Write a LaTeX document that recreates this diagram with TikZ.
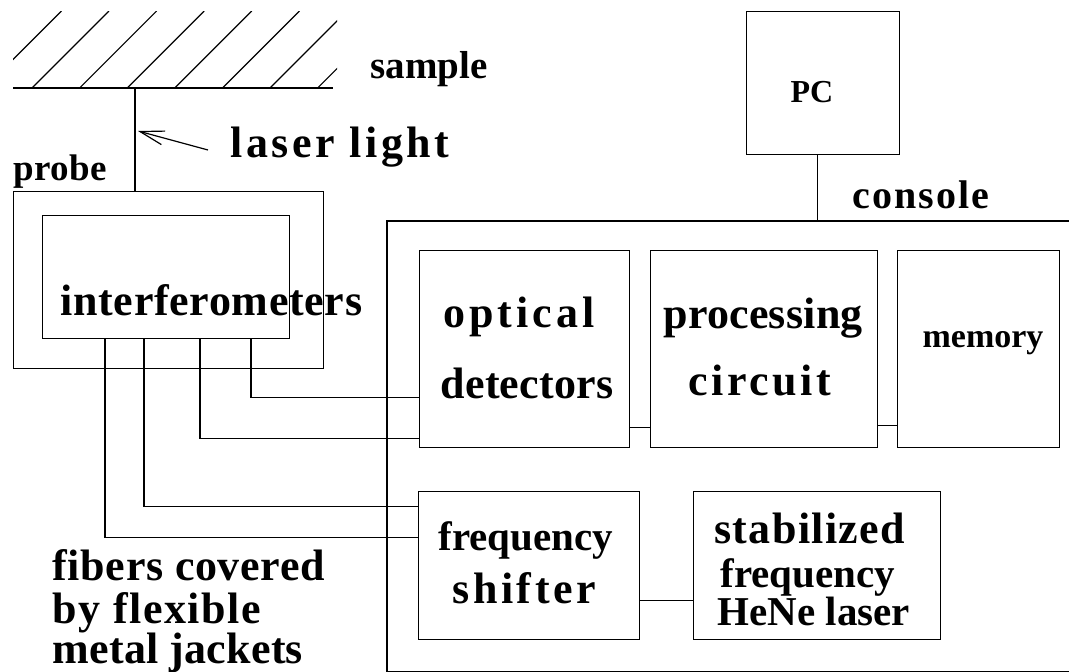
\documentclass[tikz,border=0pt]{standalone}
\usepackage{fontspec}
\setmainfont{Liberation Serif}
\usetikzlibrary{arrows.meta}
\newcommand\lsp[1]{\addfontfeatures{LetterSpace=#1}}
\begin{document}
\begin{tikzpicture}[x=1pt,y=-1pt,
  line width=1.2pt,
  box/.style={draw, inner sep=0pt, anchor=north west},
  lbl/.style={inner sep=0pt, anchor=base west, font=\bfseries\fontsize{#1}{#1}\selectfont},
  lbl/.default=44]
\useasboundingbox (0,0) rectangle (1069,672);
% sample surface with hatching
\begin{scope}
\clip (13,11) rectangle (337,88);
\foreach \b in {-15.6,32,79.6,127.2,174.8,222.4,270,317.6} \draw (\b,88) -- ++(77,-77);
\end{scope}
\coordinate (sl) at (13,88);
\coordinate (sr) at (333,88);
\draw (sl) -- (sr);
\coordinate (surf) at (135,88);
% boxes
\node[box, minimum width=310pt, minimum height=177pt] (probe) at (13,191) {};
\node[box, minimum width=247pt, minimum height=123pt] (interf) at (42,215) {};
\node[box, minimum width=153pt, minimum height=143pt] (pc) at (746,11) {};
\node[inner sep=0pt, anchor=north west, minimum width=682pt, minimum height=449pt] (console) at (387,221) {};
\draw (console.north east) -- (console.north west) -- (console.south west) -- (console.south east);
\node[box, minimum width=210pt, minimum height=197pt] (optical) at (419,250) {};
\node[box, minimum width=227pt, minimum height=197pt] (proc) at (650,250) {};
\node[box, minimum width=162pt, minimum height=197pt] (memory) at (897,250) {};
\node[box, minimum width=221pt, minimum height=148pt] (fshift) at (418,491) {};
\node[box, minimum width=247pt, minimum height=148pt] (hene) at (693,491) {};
% laser light
\draw (surf) -- (surf |- probe.north);
\coordinate (atail) at (208,150);
\coordinate (atip) at (138,131);
\draw[-{Straight Barb[length=24pt,width=14pt]}] (atail) -- (atip);
% PC to console
\draw ([xshift=-5.5pt]pc.south) -- ([xshift=-5.5pt]pc.south |- console.north);
% fibers
\draw ([xshift=209pt]interf.south west) |- ([yshift=51pt]optical.south west);
\draw ([xshift=158pt]interf.south west) |- ([yshift=10pt]optical.south west);
\draw ([xshift=102pt]interf.south west) |- ([yshift=134pt]fshift.south west);
\draw ([xshift=63pt]interf.south west) |- ([yshift=103pt]fshift.south west);
% box links
\draw ([yshift=21pt]optical.south east) -- ([yshift=21pt]proc.south west);
\draw ([yshift=23pt]proc.south east) -- ([yshift=23pt]memory.south west);
\draw ([yshift=40pt]fshift.south east) -- ([yshift=40pt]hene.south west);
% labels
\node[lbl=39] (tsample) at (370,78) {sample};
\node[lbl=44] (tlaser) at (230,157) {\lsp{8}laser light};
\node[lbl=37] (tprobe) at (13,180) {\lsp{1}probe};
\node[lbl=44] (tinterf) at (60,315) {\lsp{1.5}interferometers};
\node[lbl=32] (tpc) at (790,102) {PC};
\node[lbl=40] (tconsole) at (852,208) {\lsp{5}console};
\node[lbl=44] (topt1) at (443,327) {\lsp{9}optical};
\node[lbl=44] (topt2) at (440,398) {\lsp{0.5}detectors};
\node[lbl=44] (tproc1) at (663,328) {\lsp{0.5}processing};
\node[lbl=44] (tproc2) at (688,395) {\lsp{8}circuit};
\node[lbl=34] (tmem) at (922,347) {memory};
\node[lbl=41] (tfs1) at (438,550) {frequency};
\node[lbl=44] (tfs2) at (452,603) {\lsp{8}shifter};
\node[lbl=44] (thn1) at (714,543) {\lsp{3}stabilized};
\node[lbl=41] (thn2) at (720,587) {frequency};
\node[lbl=41] (thn3) at (717,625) {HeNe laser};
\node[lbl=44] (tfib1) at (52,580) {\lsp{1.5}fibers covered};
\node[lbl=44] (tfib2) at (52,623) {\lsp{3.6}by flexible};
\node[lbl=44] (tfib3) at (52,663) {\lsp{0.5}metal jackets};
\end{tikzpicture}
\end{document}
